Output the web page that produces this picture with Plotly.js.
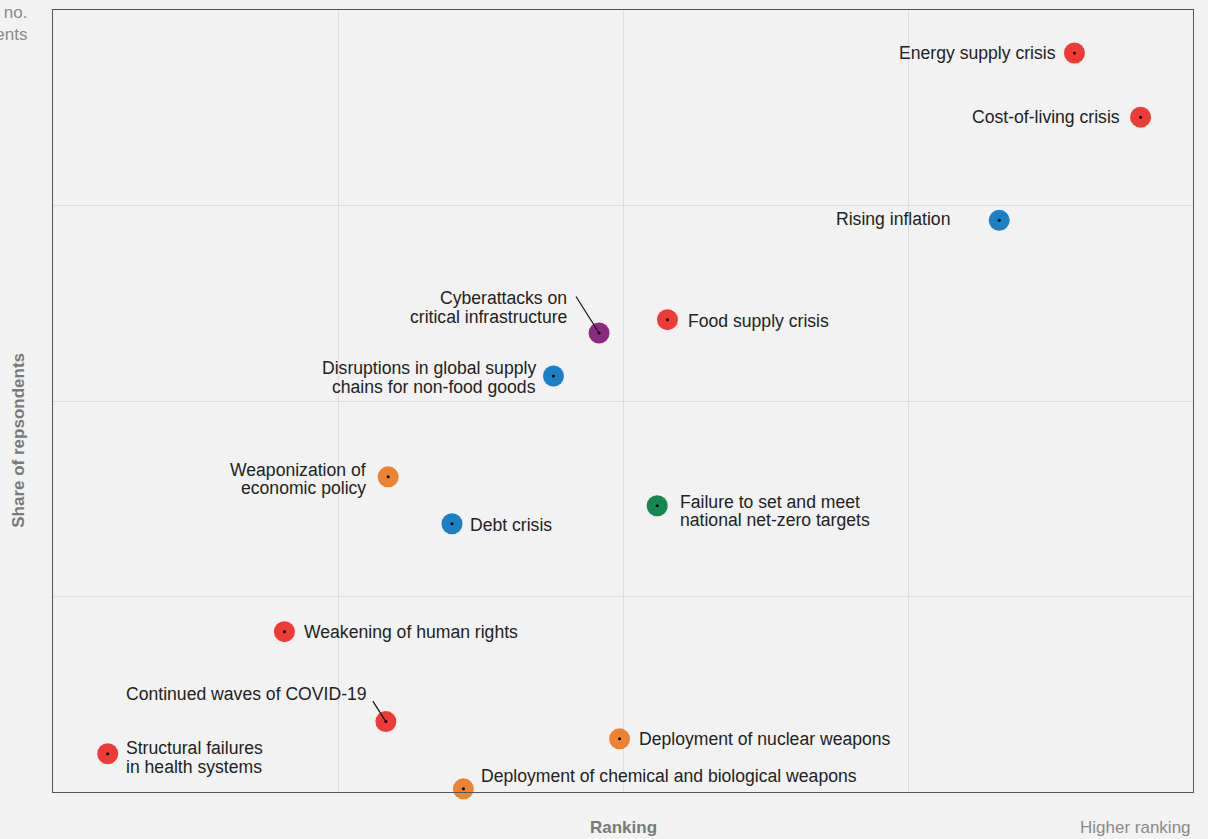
<!DOCTYPE html>
<html>
<head>
<meta charset="utf-8">
<script src="https://cdn.plot.ly/plotly-3.0.1.min.js"></script>
<style>
html,body{margin:0;padding:0;background:#f1f2f1;}
#chart{width:1208px;height:839px;}
</style>
</head>
<body>
<div id="chart"></div>
<script>
// ---- data ----
var risks = [
  "Energy supply crisis",
  "Cost-of-living crisis",
  "Rising inflation",
  "Cyberattacks on<br>critical infrastructure",
  "Food supply crisis",
  "Disruptions in global supply<br>chains for non-food goods",
  "Weaponization of<br>economic policy",
  "Debt crisis",
  "Failure to set and meet<br>national net-zero targets",
  "Weakening of human rights",
  "Continued waves of COVID-19",
  "Structural failures<br>in health systems",
  "Deployment of nuclear weapons",
  "Deployment of chemical and biological weapons"
];
var ranking = [89.6, 95.4, 83.0, 47.9, 53.9, 43.9, 29.4, 35.0, 53.0, 20.3, 29.2, 4.8, 49.7, 36.0];
var share   = [94.5, 86.3, 73.1, 58.7, 60.4, 53.2, 40.3, 34.3, 36.6, 20.5, 9.0, 4.9, 6.8, 0.4];
var category = ["econ","econ","fin","tech","econ","fin","geo","fin","env","econ","econ","econ","geo","geo"];

// ---- styles ----
var catColors = {econ:"#ee3b36", fin:"#1b80c6", tech:"#8c2a80", geo:"#ec8232", env:"#13894f"};
// label placement: [side, xshift, yshift of block centre, connector ax, connector ay]
var labelPlace = [
  ["L",-16.5,0],["L",-18.5,0],["L",-47.5,1],["L",-30.5,25.5,-24,-38],["R",19,-1],["L",-15,-1.5],["L",-20.5,-2],
  ["R",16,-1],["R",21,-5],["R",18,0],["L",-17,28,-14,-22],["R",16,-4],["R",17,0],["R",16,13]
];
var lineGap = 18.5;

var colors = category.map(function(c){return catColors[c];});
var fontFam = "Liberation Sans, Arial, Helvetica, sans-serif";
var fSize = 17.6;

var traces = [
  {x: ranking, y: share, mode: "markers", type: "scatter", cliponaxis: false, hoverinfo: "skip",
   marker: {size: 21, color: colors, line: {width: 0}}},
  {x: ranking, y: share, mode: "markers", type: "scatter", cliponaxis: false, hoverinfo: "skip",
   marker: {size: 3, color: "#000"}}
];

var annotations = [];
risks.forEach(function(r, i){
  var p = labelPlace[i];
  if (p.length > 3) {
    annotations.push({x: ranking[i], y: share[i], xref: "x", yref: "y", text: "", showarrow: true,
      arrowhead: 0, arrowwidth: 1.2, arrowcolor: "#111", ax: p[3], ay: p[4], standoff: 0});
  }
  var lines = r.split("<br>");
  var n = lines.length;
  lines.forEach(function(t, k){
    annotations.push({x: ranking[i], y: share[i], xref: "x", yref: "y", text: t, showarrow: false,
      xanchor: p[0] === "L" ? "right" : "left", yanchor: "middle",
      xshift: p[1], yshift: p[2] + ((n - 1) / 2 - k) * lineGap,
      font: {family: fontFam, size: fSize, color: "#222"}});
  });
});

annotations.push({xref: "paper", yref: "paper", x: 0.5, y: -0.046, yanchor: "middle", xanchor: "center",
  text: "<b>Ranking</b>", showarrow: false, font: {family: fontFam, size: 17, color: "#7a7a7a"}});
annotations.push({xref: "paper", yref: "paper", x: 1, y: -0.046, yanchor: "middle", xanchor: "right",
  text: "Higher ranking", showarrow: false, font: {family: fontFam, size: 17, color: "#8a8a8a"}});
annotations.push({xref: "paper", yref: "paper", x: -0.031, y: 0.45, xanchor: "center", yanchor: "middle",
  text: "<b>Share of repsondents</b>", textangle: -90, showarrow: false,
  font: {family: fontFam, size: 17, color: "#7a7a7a"}});
annotations.push({xref: "paper", yref: "paper", x: -0.021, y: 0.997, xanchor: "right", yanchor: "middle",
  text: "Higher no.", showarrow: false, font: {family: fontFam, size: 17, color: "#8a8a8a"}});
annotations.push({xref: "paper", yref: "paper", x: -0.021, y: 0.969, xanchor: "right", yanchor: "middle",
  text: "of respondents", showarrow: false, font: {family: fontFam, size: 17, color: "#8a8a8a"}});

var layout = {
  width: 1208, height: 839,
  margin: {l: 53, r: 15, t: 10, b: 47},
  paper_bgcolor: "#f1f2f1", plot_bgcolor: "#f1f2f1",
  showlegend: false,
  xaxis: {range: [0, 100], tickvals: [25, 50, 75], showticklabels: false, ticks: "",
    showgrid: true, gridcolor: "#dcdddc", gridwidth: 1, zeroline: false,
    showline: true, mirror: true, linecolor: "#555", linewidth: 1.2, fixedrange: true},
  yaxis: {range: [0, 100], tickvals: [25, 50, 75], showticklabels: false, ticks: "",
    showgrid: true, gridcolor: "#dcdddc", gridwidth: 1, zeroline: false,
    showline: true, mirror: true, linecolor: "#555", linewidth: 1.2, fixedrange: true},
  annotations: annotations,
  font: {family: fontFam}
};

Plotly.newPlot("chart", traces, layout, {displayModeBar: false, staticPlot: true});
</script>
</body>
</html>
